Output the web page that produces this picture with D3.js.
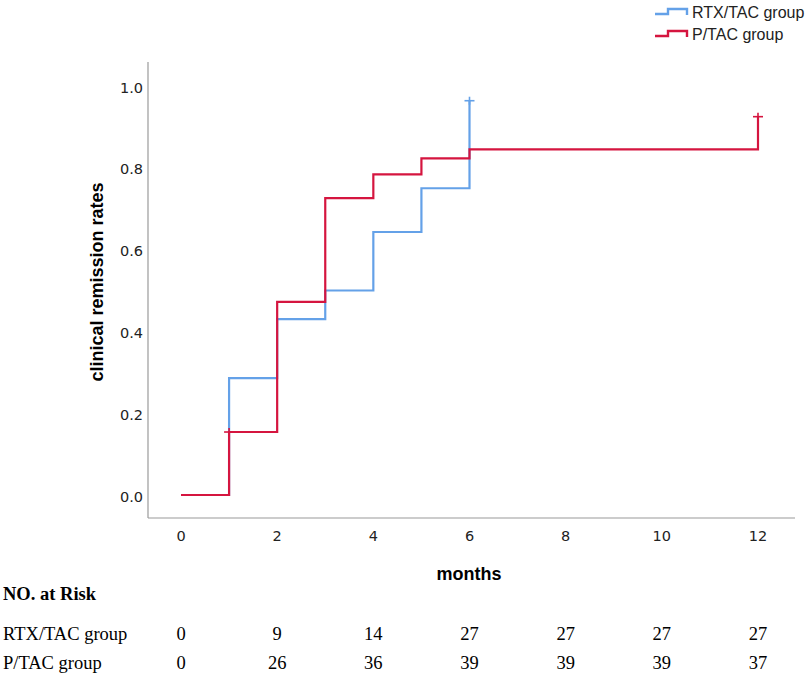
<!DOCTYPE html>
<html>
<head>
<meta charset="utf-8">
<script src="https://cdn.jsdelivr.net/npm/d3@7"></script>
<style>
  body { margin: 0; background: #fff; }
  svg { display: block; }
</style>
</head>
<body>
<svg width="809" height="673"></svg>
<script>
// step points: [month, cumulative remission rate]
var rtxSteps = [[0, 0], [1, 0.286], [2, 0.43], [3, 0.50], [4, 0.643], [5, 0.75], [6, 0.964]];
var ptacSteps = [[0, 0], [1, 0.154], [2, 0.472], [3, 0.726], [4, 0.784], [5, 0.823], [6, 0.845], [12, 0.925]];
// censored observations
var rtxCensor = [[6, 0.964]];
var ptacCensor = [[1, 0.154], [12, 0.925]];

var groups = ["RTX/TAC group", "P/TAC group"];
var colors = ["#64a1e8", "#d5153f"];
var xTicks = [0, 2, 4, 6, 8, 10, 12];
var yTicks = [0, 0.2, 0.4, 0.6, 0.8, 1.0];
var riskRtx = [0, 9, 14, 27, 27, 27, 27];
var riskPtac = [0, 26, 36, 39, 39, 39, 37];

var svg = d3.select("svg");

var x = d3.scaleLinear().domain([0, 12]).range([181, 758]);
var y = d3.scaleLinear().domain([0, 1]).range([495, 86]);

// axes (no tick marks, grey frame lines)
var axisColor = "#9a9a9a";
svg.append("line")
  .attr("x1", 148).attr("x2", 148)
  .attr("y1", 62).attr("y2", 518)
  .attr("stroke", axisColor).attr("stroke-width", 1.2);
svg.append("line")
  .attr("x1", 148).attr("x2", 795)
  .attr("y1", 518).attr("y2", 518)
  .attr("stroke", axisColor).attr("stroke-width", 1.2);

svg.append("g").selectAll("text")
  .data(yTicks)
  .enter().append("text")
  .attr("x", 143)
  .attr("y", function(d) { return y(d); })
  .attr("dy", "0.45em")
  .attr("text-anchor", "end")
  .attr("font-family", "DejaVu Sans")
  .attr("font-size", 14.5)
  .attr("fill", "#222")
  .text(function(d) { return d3.format(".1f")(d); });

svg.append("g").selectAll("text")
  .data(xTicks)
  .enter().append("text")
  .attr("x", function(d) { return x(d); })
  .attr("y", 541)
  .attr("text-anchor", "middle")
  .attr("font-family", "DejaVu Sans")
  .attr("font-size", 14.5)
  .attr("fill", "#222")
  .text(function(d) { return d; });

svg.append("text")
  .attr("x", 469).attr("y", 580)
  .attr("text-anchor", "middle")
  .attr("font-family", "Liberation Sans")
  .attr("font-weight", "bold")
  .attr("font-size", 18)
  .text("months");

svg.append("text")
  .attr("transform", "translate(103,282) rotate(-90)")
  .attr("text-anchor", "middle")
  .attr("font-family", "Liberation Sans")
  .attr("font-weight", "bold")
  .attr("font-size", 18)
  .text("clinical remission rates");

// curves
var line = d3.line()
  .x(function(d) { return x(d[0]); })
  .y(function(d) { return y(d[1]); })
  .curve(d3.curveStepAfter);

var series = [
  { steps: rtxSteps, censor: rtxCensor, color: colors[0] },
  { steps: ptacSteps, censor: ptacCensor, color: colors[1] }
];

series.forEach(function(s) {
  svg.append("path")
    .attr("d", line(s.steps))
    .attr("fill", "none")
    .attr("stroke", s.color)
    .attr("stroke-width", 2.2);

  var c = svg.append("g").selectAll("g")
    .data(s.censor)
    .enter().append("g")
    .attr("transform", function(d) { return "translate(" + x(d[0]) + "," + y(d[1]) + ")"; });
  c.append("line")
    .attr("x1", -5).attr("x2", 5).attr("y1", 0).attr("y2", 0)
    .attr("stroke", s.color).attr("stroke-width", 1.6);
  c.append("line")
    .attr("x1", 0).attr("x2", 0).attr("y1", -4).attr("y2", 4)
    .attr("stroke", s.color).attr("stroke-width", 1.6);
});

// legend
var legend = svg.append("g").selectAll("g")
  .data(groups)
  .enter().append("g")
  .attr("transform", function(d, i) { return "translate(655," + (12 + i * 22) + ")"; });

legend.append("path")
  .attr("d", "M0,2H13V-3H32V3")
  .attr("fill", "none")
  .attr("stroke", function(d, i) { return colors[i]; })
  .attr("stroke-width", 2.4);

legend.append("text")
  .attr("x", 37).attr("y", 0)
  .attr("dy", "0.35em")
  .attr("font-family", "Liberation Sans")
  .attr("font-size", 16)
  .attr("fill", "#222")
  .text(function(d) { return d; });

// number at risk table
svg.append("text")
  .attr("x", 3).attr("y", 600)
  .attr("font-family", "Liberation Serif")
  .attr("font-weight", "bold")
  .attr("font-size", 18.5)
  .text("NO. at Risk");

var rows = [riskRtx, riskPtac];
rows.forEach(function(r, i) {
  var ry = 640 + i * 28.5;
  svg.append("text")
    .attr("x", 3).attr("y", ry)
    .attr("font-family", "Liberation Serif")
    .attr("font-size", 18.5)
    .text(groups[i]);
  svg.append("g").selectAll("text")
    .data(r)
    .enter().append("text")
    .attr("x", function(d, j) { return x(xTicks[j]); })
    .attr("y", ry)
    .attr("text-anchor", "middle")
    .attr("font-family", "Liberation Serif")
    .attr("font-size", 18.5)
    .text(function(d) { return d; });
});
</script>
</body>
</html>
